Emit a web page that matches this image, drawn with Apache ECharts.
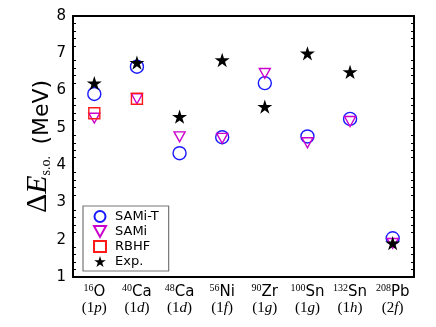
<!DOCTYPE html>
<html>
<head>
<meta charset="utf-8">
<script src="https://cdn.jsdelivr.net/npm/echarts@6/dist/echarts.min.js"></script>
<style>
  html, body { margin: 0; padding: 0; background: #fff; }
  #chart { width: 436px; height: 327px; }
</style>
</head>
<body>
<div id="chart"></div>
<script>
// nuclei and orbitals
const elements = ['O', 'Ca', 'Ca', 'Ni', 'Zr', 'Sn', 'Sn', 'Pb'];
const masses = ['16', '40', '48', '56', '90', '100', '132', '208'];
const orbitals = [['1', 'p'], ['1', 'd'], ['1', 'd'], ['1', 'f'], ['1', 'g'], ['1', 'g'], ['1', 'h'], ['2', 'f']];
const categories = elements.map((e, i) => masses[i] + e);

// spin-orbit splittings (MeV)
const samiT = [5.91, 6.64, 4.32, 4.75, 6.20, 4.77, 5.24, 2.04];
const sami = [5.26, 5.78, 4.76, 4.72, 6.46, 4.60, 5.17, 1.90];
const rbhf = [5.39, 5.78, null, null, null, null, null, null];
const exp = [6.20, 6.75, 5.30, 6.82, 5.57, 7.00, 6.50, 1.91];

const yTicks = [1, 2, 3, 4, 5, 6, 7, 8];

const starPath = 'path://M50 0 L61.2 34.6 L97.6 34.5 L68.1 55.9 L79.4 90.5 L50 69 L20.6 90.5 L31.9 55.9 L2.4 34.5 L38.8 34.6 Z';
const triDown = 'path://M0 0 L100 0 L50 90 Z';

const chart = echarts.init(document.getElementById('chart'));

const xBase = {
    type: 'category',
    data: categories,
    boundaryGap: true,
    axisLine: { lineStyle: { color: '#000', width: 2 } },
    axisTick: { inside: true, alignWithLabel: true, length: 6, lineStyle: { color: '#000', width: 1.3 } },
    splitLine: { show: false }
};
const yBase = {
    type: 'value',
    min: yTicks[0],
    max: yTicks[yTicks.length - 1],
    interval: 1,
    axisLine: { show: true, lineStyle: { color: '#000', width: 2 } },
    axisTick: { inside: true, length: 6, lineStyle: { color: '#000', width: 1.3 } },
    minorTick: { show: true, splitNumber: 5, length: 3, lineStyle: { color: '#000', width: 1 } },
    splitLine: { show: false }
};

function mk(name, data, symbol, size, stroke, fill) {
    return {
        name: name,
        type: 'scatter',
        data: data.map((v, i) => [i, v]),
        symbol: symbol,
        symbolSize: size,
        symbolKeepAspect: true,
        itemStyle: { color: fill, borderColor: stroke, borderWidth: fill === stroke ? 0 : 1.4, opacity: 1 },
        emphasis: { disabled: true }
    };
}

const option = {
    animation: false,
    textStyle: { fontFamily: 'DejaVu Sans' },
    grid: { left: 73, right: 22, top: 16, bottom: 50 },
    legend: {
        orient: 'vertical',
        left: 83,
        top: 206,
        padding: [4, 10, 3, 10],
        itemGap: 2,
        itemWidth: 12,
        itemHeight: 11,
        borderColor: '#777',
        borderWidth: 1.2,
        textStyle: { fontSize: 13, color: '#000', fontFamily: 'DejaVu Sans', lineHeight: 13, padding: [0, 0, 0, 4] },
        data: [
            { name: 'SAMi-T', icon: 'circle' },
            { name: 'SAMi', icon: triDown },
            { name: 'RBHF', icon: 'rect' },
            { name: 'Exp.', icon: starPath }
        ]
    },
    xAxis: [
        Object.assign({}, xBase, {
            position: 'bottom',
            axisLabel: {
                interval: 0,
                margin: 6,
                formatter: function (v, i) {
                    return '{sup|' + masses[i] + '}{el|' + elements[i] + '}\n{orb|(' + orbitals[i][0] + '}{orbi|' + orbitals[i][1] + '}{orb|)}';
                },
                rich: {
                    sup: { fontFamily: 'Liberation Serif', fontSize: 10, color: '#000', verticalAlign: 'top', lineHeight: 17 },
                    el: { fontFamily: 'DejaVu Sans', fontSize: 15, color: '#000', verticalAlign: 'bottom', lineHeight: 17 },
                    orb: { fontFamily: 'Liberation Serif', fontSize: 15, color: '#000', lineHeight: 17 },
                    orbi: { fontFamily: 'Liberation Serif', fontStyle: 'italic', fontSize: 15, color: '#000', lineHeight: 17 }
                }
            }
        }),
        Object.assign({}, xBase, { position: 'top', axisLabel: { show: false } })
    ],
    yAxis: [
        Object.assign({}, yBase, {
            position: 'left',
            axisLabel: { fontSize: 15, color: '#000', margin: 7 },
            name: '{D|Δ}{E|E}{s|s.o.}   {m|(MeV)}',
            nameLocation: 'middle',
            nameRotate: 90,
            nameGap: 20,
            nameMoveOverlap: false,
            nameTextStyle: {
                rich: {
                    D: { fontFamily: 'Liberation Serif', fontSize: 30, color: '#000', verticalAlign: 'bottom', lineHeight: 28 },
                    E: { fontFamily: 'Liberation Serif', fontStyle: 'italic', fontSize: 30, color: '#000', verticalAlign: 'bottom', lineHeight: 28 },
                    s: { fontFamily: 'Liberation Serif', fontSize: 14, color: '#000', verticalAlign: 'bottom', lineHeight: 20 },
                    m: { fontFamily: 'DejaVu Sans', fontSize: 22, color: '#000', verticalAlign: 'bottom', lineHeight: 26 }
                }
            }
        }),
        Object.assign({}, yBase, { position: 'right', axisLabel: { show: false } })
    ],
    series: [
        mk('SAMi-T', samiT, 'circle', 13, '#1a1aff', 'rgba(0,0,0,0)'),
        mk('SAMi', sami, triDown, 11, '#cc00cc', 'rgba(0,0,0,0)'),
        mk('RBHF', rbhf, 'rect', 11, '#ff1a1a', 'rgba(0,0,0,0)'),
        mk('Exp.', exp, starPath, 15, '#000', '#000')
    ]
};

chart.setOption(option);

window.addEventListener('resize', () => {
    chart.resize();
});
</script>
</body>
</html>
